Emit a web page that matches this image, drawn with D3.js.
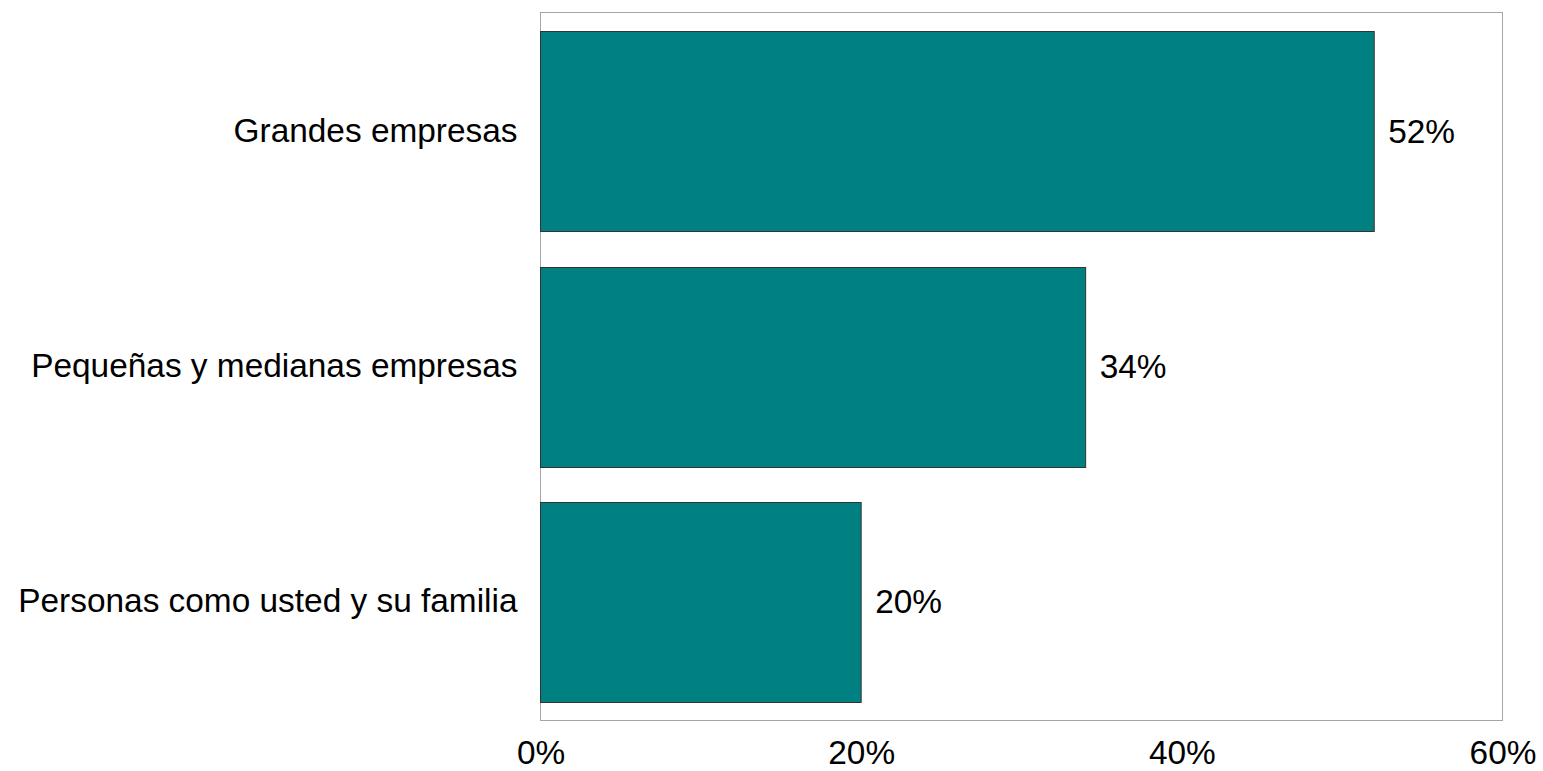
<!DOCTYPE html>
<html>
<head>
<meta charset="utf-8">
<script src="https://cdn.jsdelivr.net/npm/d3@7"></script>
<style>
  html, body { margin: 0; padding: 0; background: #fff; }
  svg { display: block; }
  text { font-family: "Liberation Sans", Arial, sans-serif; fill: #000; }
</style>
</head>
<body>
<svg id="chart" width="1543" height="771"></svg>
<script>
const categories = ["Grandes empresas", "Pequeñas y medianas empresas", "Personas como usted y su familia"];
const values = [0.52, 0.34, 0.20];
const valueLabels = ["52%", "34%", "20%"];
const xTicks = [0, 0.2, 0.4, 0.6];
const xTickLabels = ["0%", "20%", "40%", "60%"];

const svg = d3.select("#chart");
const margin = { left: 540.5, right: 1502.5, top: 12.5, bottom: 720.5 };
const fontSize = 33.4;

const x = d3.scaleLinear().domain([0, 0.6]).range([margin.left, margin.right]);
const y = d3.scaleBand().domain(categories).range([margin.top, margin.bottom]).paddingInner(0.15).paddingOuter(0.08);

// plot frame
svg.append("rect")
  .attr("x", margin.left).attr("y", margin.top)
  .attr("width", margin.right - margin.left).attr("height", margin.bottom - margin.top)
  .attr("fill", "none").attr("stroke", "#a6a6a6").attr("stroke-width", 1);

// bars
svg.selectAll("rect.bar").data(values).enter().append("rect")
  .attr("class", "bar")
  .attr("x", x(0))
  .attr("y", (d, i) => Math.round(y(categories[i])) + 0.5)
  .attr("width", d => x(d) - x(0))
  .attr("height", Math.round(y.bandwidth()))
  .attr("fill", "#008080")
  .attr("stroke", "#333")
  .attr("stroke-width", 1);

// value labels
svg.selectAll("text.val").data(values).enter().append("text")
  .attr("class", "val")
  .attr("x", d => x(d) + 14)
  .attr("y", (d, i) => y(categories[i]) + y.bandwidth() / 2)
  .attr("dy", "0.35em")
  .attr("font-size", fontSize)
  .text((d, i) => valueLabels[i]);

// category axis labels
const yAxis = d3.axisLeft(y).tickSize(0).tickPadding(23);
const gy = svg.append("g").attr("transform", `translate(${margin.left},0)`).call(yAxis);
gy.select(".domain").remove();
gy.selectAll("text").attr("font-size", fontSize).attr("font-family", "Liberation Sans, Arial, sans-serif").attr("fill", "#000");

// x axis labels
const xAxis = d3.axisBottom(x).tickValues(xTicks).tickSize(0).tickPadding(20)
  .tickFormat((d, i) => xTickLabels[i]);
const gx = svg.append("g").attr("transform", `translate(0,${margin.bottom})`).call(xAxis);
gx.select(".domain").remove();
gx.selectAll("text").attr("font-size", fontSize).attr("font-family", "Liberation Sans, Arial, sans-serif").attr("fill", "#000");
</script>
</body>
</html>
